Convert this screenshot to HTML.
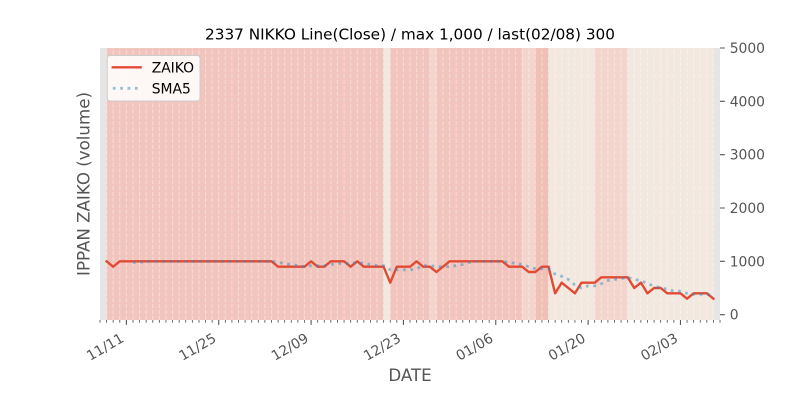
<!DOCTYPE html>
<html><head><meta charset="utf-8"><style>
html,body{margin:0;padding:0;background:#fff;}
svg{display:block;}
text{font-family:"DejaVu Sans","Liberation Sans",sans-serif;}
</style></head><body>
<svg width="800" height="400" viewBox="0 0 800 400" xmlns="http://www.w3.org/2000/svg">
<rect x="0" y="0" width="800" height="400" fill="#ffffff"/>
<!-- axes background -->
<rect x="100" y="48" width="620" height="272" fill="#e5e5e5"/>
<!-- shaded spans -->
<rect x="106.60" y="48" width="277.03" height="272" fill="#f1c5bd"/>
<rect x="383.63" y="48" width="6.60" height="272" fill="#f2e8df"/>
<rect x="390.23" y="48" width="39.57" height="272" fill="#f1c5bd"/>
<rect x="429.80" y="48" width="6.60" height="272" fill="#f3d5ce"/>
<rect x="436.40" y="48" width="85.75" height="272" fill="#f1c5bd"/>
<rect x="522.15" y="48" width="13.19" height="272" fill="#f3d5ce"/>
<rect x="535.34" y="48" width="13.19" height="272" fill="#f0bfb6"/>
<rect x="548.53" y="48" width="46.17" height="272" fill="#f2e8df"/>
<rect x="594.70" y="48" width="32.98" height="272" fill="#f3d5ce"/>
<rect x="627.68" y="48" width="85.75" height="272" fill="#f2e8df"/>
<!-- dashed day gridlines -->
<path fill="none" stroke="#ffffff" stroke-opacity="0.38" stroke-width="1.1" stroke-dasharray="4.1 1.8" d="M106.60 320V48M113.19 320V48M119.79 320V48M126.38 320V48M132.98 320V48M139.58 320V48M146.17 320V48M152.77 320V48M159.36 320V48M165.96 320V48M172.56 320V48M179.15 320V48M185.75 320V48M192.35 320V48M198.94 320V48M205.54 320V48M212.13 320V48M218.73 320V48M225.33 320V48M231.92 320V48M238.52 320V48M245.12 320V48M251.71 320V48M258.31 320V48M264.90 320V48M271.50 320V48M278.10 320V48M284.69 320V48M291.29 320V48M297.88 320V48M304.48 320V48M311.08 320V48M317.67 320V48M324.27 320V48M330.86 320V48M337.46 320V48M344.06 320V48M350.65 320V48M357.25 320V48M363.84 320V48M370.44 320V48M377.04 320V48M383.63 320V48M390.23 320V48M396.82 320V48M403.42 320V48M410.02 320V48M416.61 320V48M423.21 320V48M429.80 320V48M436.40 320V48M443.00 320V48M449.59 320V48M456.19 320V48M462.78 320V48M469.38 320V48M475.98 320V48M482.57 320V48M489.17 320V48M495.76 320V48M502.36 320V48M508.96 320V48M515.55 320V48M522.15 320V48M528.74 320V48M535.34 320V48M541.94 320V48M548.53 320V48M555.13 320V48M561.72 320V48M568.32 320V48M574.92 320V48M581.51 320V48M588.11 320V48M594.70 320V48M601.30 320V48M607.90 320V48M614.49 320V48M621.09 320V48M627.68 320V48M634.28 320V48M640.88 320V48M647.47 320V48M654.07 320V48M660.66 320V48M667.26 320V48M673.86 320V48M680.45 320V48M687.05 320V48M693.64 320V48M700.24 320V48M706.84 320V48M713.43 320V48"/>
<!-- ZAIKO line -->
<polyline fill="none" stroke="#E24A33" stroke-width="2.4" stroke-linecap="square" stroke-linejoin="round" points="106.60,261.33 113.19,266.67 119.79,261.33 271.50,261.33 278.10,266.67 304.48,266.67 311.08,261.33 317.67,266.67 324.27,266.67 330.86,261.33 344.06,261.33 350.65,266.67 357.25,261.33 363.84,266.67 383.63,266.67 390.23,282.67 396.82,266.67 410.02,266.67 416.61,261.33 423.21,266.67 429.80,266.67 436.40,272.00 443.00,266.67 449.59,261.33 502.36,261.33 508.96,266.67 522.15,266.67 528.74,272.00 535.34,272.00 541.94,266.67 548.53,266.67 555.13,293.33 561.72,282.67 568.32,288.00 574.92,293.33 581.51,282.67 594.70,282.67 601.30,277.33 627.68,277.33 634.28,288.00 640.88,282.67 647.47,293.33 654.07,288.00 660.66,288.00 667.26,293.33 680.45,293.33 687.05,298.67 693.64,293.33 706.84,293.33 713.43,298.67"/>
<!-- SMA5 dotted -->
<polyline fill="none" stroke="#348ABD" stroke-opacity="0.5" stroke-width="2.78" stroke-dasharray="2.78 4.58" stroke-linejoin="round" points="132.98,262.40 139.58,262.40 146.17,261.33 271.50,261.33 278.10,262.40 284.69,263.47 291.29,264.53 297.88,265.60 304.48,266.67 311.08,265.60 324.27,265.60 330.86,264.53 337.46,263.47 350.65,263.47 357.25,262.40 363.84,263.47 370.44,264.53 377.04,265.60 383.63,265.60 390.23,269.87 410.02,269.87 416.61,268.80 423.21,265.60 429.80,265.60 436.40,266.67 449.59,266.67 456.19,265.60 462.78,264.53 469.38,262.40 475.98,261.33 502.36,261.33 508.96,262.40 515.55,263.47 522.15,264.53 528.74,266.67 535.34,268.80 548.53,268.80 555.13,274.13 561.72,276.27 568.32,279.47 574.92,284.80 581.51,288.00 588.11,285.87 594.70,285.87 601.30,283.73 607.90,280.53 614.49,279.47 621.09,278.40 627.68,277.33 634.28,279.47 640.88,280.53 647.47,283.73 654.07,285.87 660.66,288.00 667.26,289.07 673.86,291.20 680.45,291.20 687.05,293.33 693.64,294.40 706.84,294.40 713.43,295.47"/>
<!-- minor x ticks -->
<path fill="none" stroke="#555555" stroke-width="0.85" d="M100.00 320v2.78M106.60 320v2.78M113.19 320v2.78M119.79 320v2.78M132.98 320v2.78M139.58 320v2.78M146.17 320v2.78M152.77 320v2.78M159.36 320v2.78M165.96 320v2.78M172.56 320v2.78M179.15 320v2.78M185.75 320v2.78M192.35 320v2.78M198.94 320v2.78M205.54 320v2.78M212.13 320v2.78M225.33 320v2.78M231.92 320v2.78M238.52 320v2.78M245.12 320v2.78M251.71 320v2.78M258.31 320v2.78M264.90 320v2.78M271.50 320v2.78M278.10 320v2.78M284.69 320v2.78M291.29 320v2.78M297.88 320v2.78M304.48 320v2.78M317.67 320v2.78M324.27 320v2.78M330.86 320v2.78M337.46 320v2.78M344.06 320v2.78M350.65 320v2.78M357.25 320v2.78M363.84 320v2.78M370.44 320v2.78M377.04 320v2.78M383.63 320v2.78M390.23 320v2.78M396.82 320v2.78M410.02 320v2.78M416.61 320v2.78M423.21 320v2.78M429.80 320v2.78M436.40 320v2.78M443.00 320v2.78M449.59 320v2.78M456.19 320v2.78M462.78 320v2.78M469.38 320v2.78M475.98 320v2.78M482.57 320v2.78M489.17 320v2.78M502.36 320v2.78M508.96 320v2.78M515.55 320v2.78M522.15 320v2.78M528.74 320v2.78M535.34 320v2.78M541.94 320v2.78M548.53 320v2.78M555.13 320v2.78M561.72 320v2.78M568.32 320v2.78M574.92 320v2.78M581.51 320v2.78M594.70 320v2.78M601.30 320v2.78M607.90 320v2.78M614.49 320v2.78M621.09 320v2.78M627.68 320v2.78M634.28 320v2.78M640.88 320v2.78M647.47 320v2.78M654.07 320v2.78M660.66 320v2.78M667.26 320v2.78M673.86 320v2.78M687.05 320v2.78M693.64 320v2.78M700.24 320v2.78M706.84 320v2.78M713.43 320v2.78M720.03 320v2.78"/>
<!-- major x ticks -->
<path fill="none" stroke="#555555" stroke-width="1.1" d="M126.38 320v4.86M218.73 320v4.86M311.08 320v4.86M403.42 320v4.86M495.76 320v4.86M588.11 320v4.86M680.45 320v4.86"/>
<!-- y ticks (right) -->
<path fill="none" stroke="#555555" stroke-width="1.1" d="M720 314.67h4.86M720 261.33h4.86M720 208h4.86M720 154.67h4.86M720 101.33h4.86M720 48h4.86"/>
<!-- x tick labels -->
<g fill="#555555" font-size="13.89" text-anchor="end">
<text transform="translate(124.8,341) rotate(-30)">11/11</text>
<text transform="translate(217.1,341) rotate(-30)">11/25</text>
<text transform="translate(309.5,341) rotate(-30)">12/09</text>
<text transform="translate(401.8,341) rotate(-30)">12/23</text>
<text transform="translate(494.2,341) rotate(-30)">01/06</text>
<text transform="translate(586.5,341) rotate(-30)">01/20</text>
<text transform="translate(678.9,341) rotate(-30)">02/03</text>
</g>
<!-- y tick labels -->
<g fill="#555555" font-size="13.89">
<text x="729.7" y="319.7">0</text>
<text x="729.7" y="266.4">1000</text>
<text x="729.7" y="213.1">2000</text>
<text x="729.7" y="159.7">3000</text>
<text x="729.7" y="106.4">4000</text>
<text x="729.7" y="53.1">5000</text>
</g>
<!-- title -->
<text x="410" y="39.5" font-size="15.28" fill="#000000" text-anchor="middle">2337 NIKKO Line(Close) / max 1,000 / last(02/08) 300</text>
<!-- axis labels -->
<text x="410" y="381" font-size="16.67" fill="#555555" text-anchor="middle">DATE</text>
<text transform="translate(89.5,184) rotate(-90)" font-size="16.67" fill="#555555" text-anchor="middle">IPPAN ZAIKO (volume)</text>
<!-- legend -->
<rect x="107.2" y="55.5" width="92.8" height="45.5" rx="2.8" ry="2.8" fill="#ffffff" fill-opacity="0.85" stroke="#cccccc" stroke-width="1"/>
<line x1="112.8" y1="67.3" x2="140.6" y2="67.3" stroke="#E24A33" stroke-width="2.4" stroke-linecap="square"/>
<line x1="112.8" y1="88.3" x2="140.6" y2="88.3" stroke="#348ABD" stroke-opacity="0.5" stroke-width="2.78" stroke-dasharray="2.78 4.58"/>
<g fill="#000000" font-size="13.89">
<text x="151.7" y="72.4">ZAIKO</text>
<text x="151.7" y="93.5">SMA5</text>
</g>
</svg>
</body></html>
